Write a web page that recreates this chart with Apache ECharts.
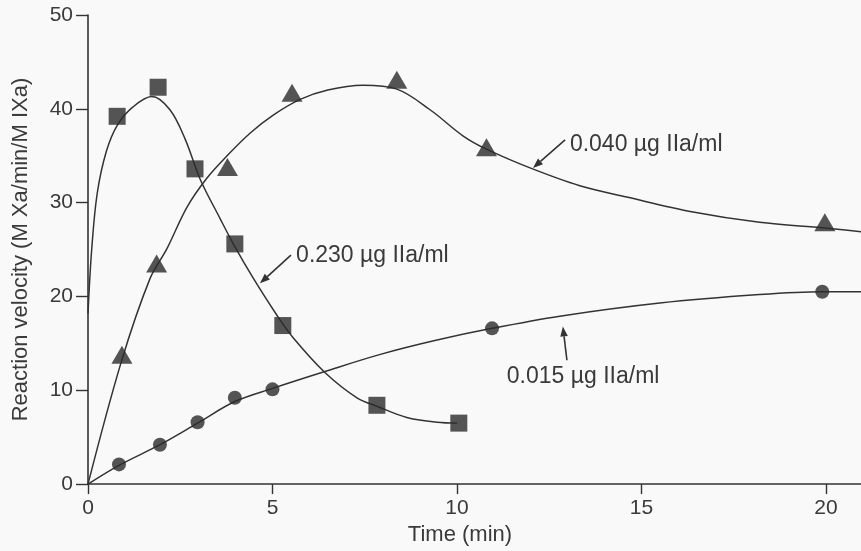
<!DOCTYPE html>
<html>
<head>
<meta charset="utf-8">
<script src="https://cdn.jsdelivr.net/npm/echarts@6/dist/echarts.min.js"></script>
<style>
html,body{margin:0;padding:0;background:#f9f9f9;}
#c{width:861px;height:551px;}
</style>
</head>
<body>
<div id="c"></div>
<script>
// ---- data ----
const xTicks = [0, 5, 10, 15, 20];
const yTicks = [0, 10, 20, 30, 40, 50];

// measured points
const sq230 = [[0.79,39.2],[1.90,42.3],[2.90,33.6],[3.98,25.6],[5.28,16.9],[7.83,8.4],[10.05,6.5]];
const tri040 = [[0.92,13.8],[1.86,23.5],[3.78,33.8],[5.53,41.7],[8.37,43.1],[10.8,35.9],[19.97,27.9]];
const cir015 = [[0.84,2.1],[1.95,4.2],[2.97,6.6],[3.98,9.2],[5.0,10.1],[10.95,16.6],[19.9,20.5]];

// fitted curves
const curve230 = [[0,18.2],[0.1,25],[0.25,31],[0.5,35.5],[0.8,38.3],[1.22,40.2],[1.73,41.3],[2.22,39.9],[2.63,36.8],[3.04,32.5],[3.58,28.3],[3.98,25.3],[4.47,22],[5.12,18],[5.56,15.6],[6.42,11.9],[7.29,9.2],[7.83,8.3],[8.64,7.1],[9.46,6.6],[10.0,6.5]];
const curve040 = [[0,0],[0.9,13],[1.68,21.9],[2.14,25.1],[2.68,29.5],[3.22,32.6],[3.77,35],[4.39,37.4],[5.01,39.3],[5.75,41],[6.5,42],[7.45,42.5],[8.37,42.1],[9.27,39.9],[10.17,37.1],[10.8,35.7],[11.98,33.7],[13.33,31.8],[14.6,30.6],[16.4,29],[18.2,27.9],[19.97,27.3],[20.95,26.9]];
const curve015 = [[0,0],[0.84,2.0],[1.95,4.2],[2.97,6.5],[3.98,8.8],[5.0,10.2],[6.42,12.0],[7.9,13.8],[9.4,15.3],[10.95,16.6],[12.79,17.9],[15.5,19.3],[18.2,20.2],[19.9,20.5],[20.95,20.5]];

// annotations (data coordinates)
const annotTexts = ['0.230 \u00b5g IIa/ml', '0.040 \u00b5g IIa/ml', '0.015 \u00b5g IIa/ml'];
const annotTextPos = [[5.64,24.4],[13.06,36.2],[11.35,11.4]];
const arrowFrom = [[5.5,24.4],[12.93,36.7],[12.98,13.2]];
const arrowTo = [[4.66,21.4],[12.06,33.7],[12.87,16.8]];

const xName = 'Time (min)';
const yName = 'Reaction velocity (M Xa/min/M IXa)';

// ---- chart ----
const ink = '#333333';
const textInk = '#3a3a3a';
const font = '"Liberation Sans", Arial, Helvetica, sans-serif';
const chart = echarts.init(document.getElementById('c'), null, {renderer:'canvas'});

const lineSeries = (d) => ({type:'line', data:d, smooth:0.35, showSymbol:false, symbol:'none',
  lineStyle:{color:ink, width:1.5}, silent:true, z:2});
const markSeries = (d, sym, size) => ({type:'scatter', data:d, symbol:sym, symbolSize:size,
  itemStyle:{color:'#2a2a2a'}, silent:true, z:3});

chart.setOption({
  backgroundColor:'#f9f9f9',
  animation:false,
  grid:{left:88, right:0, top:15, bottom:64, containLabel:false},
  xAxis:{
    type:'value', min:0, max:20.95, interval:5,
    name:xName, nameLocation:'middle', nameGap:39,
    nameTextStyle:{color:textInk, fontSize:22, fontFamily:font, padding:[0,29,0,0]},
    axisLine:{show:true, onZero:false, lineStyle:{color:ink, width:1.6}},
    axisTick:{show:true, inside:false, length:10, customValues:xTicks, lineStyle:{color:ink, width:1.4}},
    axisLabel:{color:textInk, fontSize:21, fontFamily:font, margin:14, hideOverlap:false,
      customValues:xTicks},
    splitLine:{show:false}
  },
  yAxis:{
    type:'value', min:0, max:50, interval:10,
    name:yName, nameLocation:'middle', nameGap:56,
    nameTextStyle:{color:textInk, fontSize:22, fontFamily:font},
    axisLine:{show:true, onZero:false, lineStyle:{color:ink, width:1.6}},
    axisTick:{show:true, inside:false, length:12, lineStyle:{color:ink, width:1.4}},
    axisLabel:{color:textInk, fontSize:21, fontFamily:font, margin:15,
      formatter:(v)=> yTicks.indexOf(v)>=0 ? String(v) : ''},
    splitLine:{show:false}
  },
  series:[
    lineSeries(curve230), lineSeries(curve040), lineSeries(curve015),
    markSeries(sq230, 'rect', 17),
    markSeries(tri040, 'triangle', [21,18]),
    markSeries(cir015, 'circle', 14)
  ]
});

// annotations via pixel conversion of data coordinates
function px(p){ return chart.convertToPixel({xAxisIndex:0, yAxisIndex:0}, p); }
const g = [];
for (let i=0;i<annotTexts.length;i++){
  const a = px(arrowFrom[i]), b = px(arrowTo[i]);
  const dx=b[0]-a[0], dy=b[1]-a[1], L=Math.hypot(dx,dy), ux=dx/L, uy=dy/L;
  const hl=10, hw=3.8;
  const bx=b[0]-ux*hl, by=b[1]-uy*hl;
  g.push({type:'line', shape:{x1:a[0],y1:a[1],x2:bx,y2:by}, style:{stroke:ink, lineWidth:1.6}, silent:true});
  g.push({type:'polygon', shape:{points:[[b[0],b[1]],[bx-uy*hw,by+ux*hw],[bx+uy*hw,by-ux*hw]]}, style:{fill:ink}, silent:true});
  const t = px(annotTextPos[i]);
  g.push({type:'text', x:t[0], y:t[1], style:{text:annotTexts[i], fill:textInk, font:'23px '+font, align:'left', verticalAlign:'middle'}, silent:true});
}
chart.setOption({graphic:g});
</script>
</body>
</html>
